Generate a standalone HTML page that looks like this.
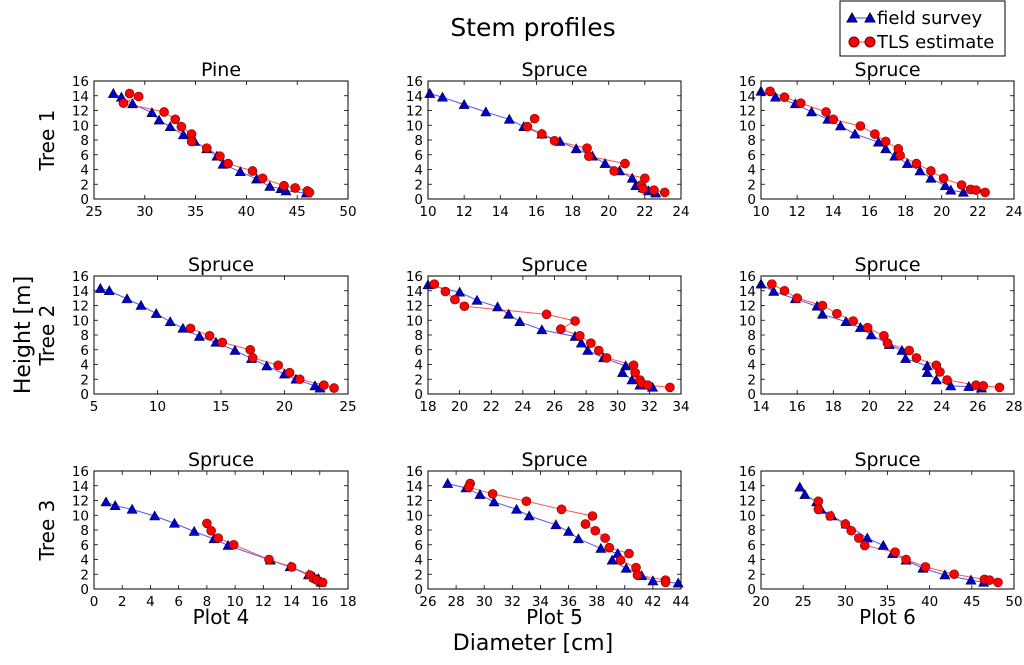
<!DOCTYPE html>
<html><head><meta charset="utf-8"><style>
body{margin:0;background:#fff}
svg{display:block;font-family:"DejaVu Sans","Liberation Sans",sans-serif}
</style></head><body>
<svg id="chart" width="1024" height="665" viewBox="0 0 1024 665" xmlns="http://www.w3.org/2000/svg">
<text x="533" y="36" font-size="25" text-anchor="middle">Stem profiles</text>
<g>
<rect x="840" y="1" width="165" height="55" fill="#fff" stroke="#000" stroke-width="1"/>
<g>
<line x1="852" y1="18" x2="870" y2="18" stroke="#44f" stroke-width="1"/>
<polygon points="852,13 847,22 857,22" fill="#00c" stroke="#003"/>
<polygon points="870,13 865,22 875,22" fill="#00c" stroke="#003"/>
<text x="877" y="24" font-size="18">field survey</text></g>
<g>
<line x1="854" y1="42" x2="870" y2="42" stroke="#f44" stroke-width="1"/>
<circle cx="854" cy="42" r="5" fill="#f00" stroke="#600"/>
<circle cx="870" cy="42" r="5" fill="#f00" stroke="#600"/>
<text x="877" y="48" font-size="18">TLS estimate</text></g>
</g>
<text transform="translate(30,335) rotate(-90)" font-size="22" text-anchor="middle">Height [m]</text>
<text x="533" y="650" font-size="22" text-anchor="middle">Diameter [cm]</text>
<g id="panels"></g>
</svg>
<script>
const titles=["Pine","Spruce","Spruce","Spruce","Spruce","Spruce","Spruce","Spruce","Spruce"];
const xMin=[25,10,10,5,18,14,0,26,20];
const xMax=[50,24,24,25,34,28,18,44,50];
const xStep=[5,2,2,5,2,2,2,2,5];
const yTicks=[0,2,4,6,8,10,12,14,16];
const rowLabels=["Tree 1","Tree 2","Tree 3"];
const colLabels=["Plot 4","Plot 5","Plot 6"];
const fieldD=[
[26.9,27.7,28.8,30.7,31.4,32.5,33.8,34.9,36.1,37.1,37.7,39.4,41,42.3,43.4,43.9,45.9],
[10.1,10.8,12.0,13.2,14.5,15.3,16.3,17.3,18.2,19.1,19.8,20.6,21.3,21.5,21.9,22.2,22.6],
[10.0,10.8,11.9,12.8,13.7,14.4,15.2,16.5,16.9,17.4,18.1,18.8,19.4,20.2,20.5,21.2],
[5.5,6.2,7.6,8.7,9.9,11.0,12.0,13.3,14.6,16.1,17.4,18.6,20.0,20.9,22.4,22.8],
[18.0,20.0,21.1,22.4,23.1,23.8,25.2,27.3,27.7,28.1,29.1,30.5,30.3,30.9,31.4,32.2],
[14.0,14.7,15.9,17.1,17.4,18.7,19.5,20.1,21.1,21.8,22.0,23.2,23.2,23.7,24.5,25.5,26.2],
[0.85,1.5,2.7,4.3,5.7,7.1,8.5,9.5,12.5,13.9,15.2,15.6,15.9,16.1],
[27.4,28.7,29.7,30.7,32.3,33.2,35.1,36.0,36.7,38.3,39.5,39.1,40.1,41.2,42.0,43.8],
[24.6,25.2,26.6,27.1,28.4,30.1,32.6,34.5,35.6,37.2,39.2,41.8,44.9,46.4]];
const fieldH=[
[14.3,13.8,12.9,11.7,10.7,9.8,8.7,7.8,6.8,5.8,4.7,3.7,2.7,1.7,1.4,1.1,0.8],
[14.3,13.8,12.8,11.8,10.8,9.8,8.8,7.8,6.8,5.8,4.8,3.8,2.8,1.8,1.5,1.1,0.8],
[14.6,13.8,12.9,11.8,10.8,9.9,8.8,7.7,6.8,5.8,4.8,3.8,2.8,1.8,1.2,0.9],
[14.3,14.0,12.9,12.0,10.9,9.8,8.9,7.8,7.0,5.9,4.8,3.8,2.7,2.0,1.1,0.8],
[14.8,13.8,12.7,11.8,10.8,9.8,8.7,7.8,6.9,5.9,4.9,3.8,2.9,1.9,1.2,0.9],
[14.9,13.9,12.9,11.9,10.8,9.8,9.0,8.0,6.7,5.9,4.8,3.8,2.9,1.9,1.1,1.0,0.8],
[11.8,11.3,10.8,9.9,8.9,7.8,6.8,5.9,3.9,3.0,1.9,1.6,1.4,0.9],
[14.3,13.7,12.8,11.8,10.8,9.9,8.7,7.8,6.8,5.5,4.8,3.9,2.8,1.8,1.1,0.8],
[13.8,12.8,11.8,10.8,9.9,8.8,6.9,5.9,4.8,3.9,2.8,1.9,1.2,0.9]];
const tlsD=[
[28.5,29.4,27.9,31.9,33.0,33.6,34.6,34.6,36.1,37.4,38.2,40.6,41.6,43.7,44.8,46.0,46.2],
[15.9,15.5,16.3,17.0,18.8,18.9,20.9,20.3,22.0,21.8,21.9,22.5,23.1],
[10.5,11.3,12.2,13.6,14.0,15.5,16.3,16.9,17.6,17.7,18.6,19.4,20.1,21.1,21.6,21.9,22.4],
[12.6,14.1,15.1,17.3,17.5,19.5,20.4,21.2,23.1,23.9],
[18.4,19.1,19.7,20.3,25.5,27.3,26.4,27.6,28.3,28.8,29.3,31.0,31.1,31.4,31.5,31.9,33.3],
[14.6,15.3,16.0,17.4,18.2,19.1,19.9,20.8,21.0,22.2,22.6,23.7,23.9,24.3,25.9,26.3,27.2],
[8.0,8.3,8.8,9.9,12.4,14.0,15.3,15.6,15.8,16.2],
[29.0,28.9,30.6,33.0,35.5,37.7,37.2,37.9,38.6,38.9,40.3,39.7,40.8,40.9,42.9,42.9],
[26.8,26.8,28.2,30.0,30.7,31.6,32.3,35.9,37.2,39.5,42.9,46.5,47.1,48.1]];
const tlsH=[
[14.3,13.9,13.0,11.8,10.8,9.8,8.8,7.8,6.9,5.8,4.8,3.8,2.8,1.8,1.5,1.1,0.9],
[10.9,9.8,8.8,7.9,6.9,5.8,4.8,3.8,2.8,1.9,1.4,1.2,0.9],
[14.6,13.8,13.0,11.8,10.8,9.9,8.8,7.8,6.8,5.9,4.8,3.8,2.8,1.9,1.3,1.2,0.9],
[8.9,7.9,7.0,6.0,4.9,3.9,2.9,2.0,1.2,0.8],
[14.9,13.9,12.8,11.9,10.8,9.9,8.8,7.9,6.9,5.9,4.9,3.9,2.9,1.9,1.5,1.2,0.9],
[14.9,14.0,13.0,12.0,10.9,9.9,9.0,7.9,6.9,5.9,4.9,3.9,3.0,1.9,1.2,1.1,0.9],
[8.9,7.9,6.9,6.0,4.0,3.0,1.9,1.4,1.2,0.9],
[14.3,13.8,12.9,11.9,10.8,9.9,8.8,7.9,6.9,5.6,4.8,3.9,2.9,1.9,1.2,0.9],
[11.9,10.8,9.9,8.8,7.9,6.9,5.9,5.0,4.0,3.0,2.0,1.3,1.2,0.9]];

const NS="http://www.w3.org/2000/svg";
const colX=[[94,348],[428,681],[761,1014]];
const rowY=[[81,199],[276,394],[471,589]];
const root=document.getElementById('panels');
function mk(tag,attrs,parent){const e=document.createElementNS(NS,tag);for(const k in attrs)e.setAttribute(k,attrs[k]);parent.appendChild(e);return e;}
for(let p=0;p<9;p++){
  const r=Math.floor(p/3),c=p%3;
  const [x0,x1]=colX[c],[y0,y1]=rowY[r];
  const sx=v=>x0+(v-xMin[p])/(xMax[p]-xMin[p])*(x1-x0);
  const sy=v=>y1-v/16*(y1-y0);
  const g=mk('g',{},root);
  
  
  const t=mk('text',{x:(x0+x1)/2,y:y0-5,'font-size':19,'text-anchor':'middle'},g);
  t.textContent=titles[p];
  
  
  yTicks.forEach(v=>{
    const yy=sy(v);
    mk('line',{x1:x0,y1:yy,x2:x0+4,y2:yy,stroke:'#000','stroke-width':0.8},g);
    mk('line',{x1:x1,y1:yy,x2:x1-4,y2:yy,stroke:'#000','stroke-width':0.8},g);
    const l=mk('text',{x:x0-5,y:yy+5,'font-size':13.5,'text-anchor':'end'},g);
    l.textContent=v;
    
    
  });
  for(let v=xMin[p];v<=xMax[p]+1e-9;v+=xStep[p]){
    const xx=sx(v);
    mk('line',{x1:xx,y1:y1,x2:xx,y2:y1-4,stroke:'#000','stroke-width':0.8},g);
    mk('line',{x1:xx,y1:y0,x2:xx,y2:y0+4,stroke:'#000','stroke-width':0.8},g);
    const l=mk('text',{x:xx,y:y1+17,'font-size':13.5,'text-anchor':'middle'},g);
    l.textContent=v;
    
    
  }
  const fl=mk('polyline',{points:fieldD[p].map((d,i)=>sx(d)+','+sy(fieldH[p][i])).join(' '),fill:'none',stroke:'#55f','stroke-width':1},g);
  
  
  const tl=mk('polyline',{points:tlsD[p].map((d,i)=>sx(d)+','+sy(tlsH[p][i])).join(' '),fill:'none',stroke:'#f55','stroke-width':1},g);
  
  
  fieldD[p].forEach((d,i)=>{
    const X=sx(d),Y=sy(fieldH[p][i]);
    const m=mk('polygon',{points:`${X},${Y-5} ${X-5},${Y+4} ${X+5},${Y+4}`,fill:'#00c',stroke:'#003','stroke-width':0.6},g);
    
    
  });
  tlsD[p].forEach((d,i)=>{
    const m=mk('circle',{cx:sx(d),cy:sy(tlsH[p][i]),r:4.5,fill:'#f00',stroke:'#600','stroke-width':0.6},g);
    
    
  });
  const fr=mk('rect',{x:x0,y:y0,width:x1-x0,height:y1-y0,fill:'none',stroke:'#000','stroke-width':1},g);
  
  
}
rowLabels.forEach((s,r)=>{
  const cy=(rowY[r][0]+rowY[r][1])/2;
  const t=mk('text',{transform:`translate(54,${cy}) rotate(-90)`,'font-size':20,'text-anchor':'middle'},root);
  t.textContent=s;
  
  
});
colLabels.forEach((s,c)=>{
  const t=mk('text',{x:(colX[c][0]+colX[c][1])/2,y:624,'font-size':20,'text-anchor':'middle'},root);
  t.textContent=s;
  
  
});
</script>
</body></html>
